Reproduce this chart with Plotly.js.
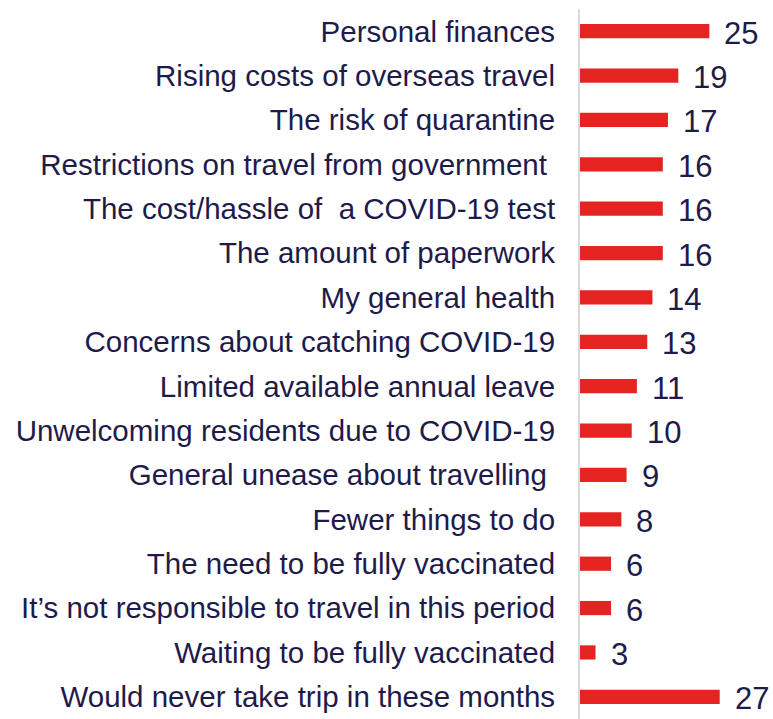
<!DOCTYPE html>
<html>
<head>
<meta charset="utf-8">
<script src="https://cdn.plot.ly/plotly-3.0.1.min.js"></script>
<style>html,body{margin:0;padding:0;background:#fff;}#chart{width:773px;height:719px;}</style>
</head>
<body>
<div id="chart"></div>
<script>
const categories = [
  "Personal finances",
  "Rising costs of overseas travel",
  "The risk of quarantine",
  "Restrictions on travel from government\u00a0",
  "The cost/hassle of \u00a0a COVID-19 test",
  "The amount of paperwork",
  "My general health",
  "Concerns about catching COVID-19",
  "Limited available annual leave",
  "Unwelcoming residents due to COVID-19",
  "General unease about travelling\u00a0",
  "Fewer things to do",
  "The need to be fully vaccinated",
  "It\u2019s not responsible to travel in this period",
  "Waiting to be fully vaccinated",
  "Would never take trip in these months"
];
const values = [25, 19, 17, 16, 16, 16, 14, 13, 11, 10, 9, 8, 6, 6, 3, 27];

const textColor = "#1e1b4b";
const fontFam = "Liberation Sans, Arial, sans-serif";

const trace = {
  type: "bar",
  orientation: "h",
  x: values,
  y: categories,
  marker: {color: "#e52421"},
  width: 0.32,
  hoverinfo: "none"
};

const annotations = values.map((v, i) => ({
  x: v, y: categories[i], xref: "x", yref: "y",
  text: String(v), showarrow: false, xanchor: "left", yanchor: "middle",
  xshift: 13, yshift: -2,
  font: {family: fontFam, size: 31, color: textColor}
}));

const layout = {
  width: 773, height: 719,
  margin: {l: 580, r: 0, t: 9, b: 0, pad: 0},
  paper_bgcolor: "#ffffff", plot_bgcolor: "#ffffff",
  showlegend: false,
  xaxis: {range: [0, 37.3], visible: false, fixedrange: true},
  yaxis: {
    type: "category", autorange: "reversed",
    showgrid: false, zeroline: false,
    showline: true, linecolor: "#d9d9d9", linewidth: 2,
    ticks: "", ticklabelstandoff: 17,
    tickfont: {family: fontFam, size: 29.5, color: textColor}
  },
  annotations: annotations
};

Plotly.newPlot("chart", [trace], layout, {displayModeBar: false, staticPlot: true});
</script>
</body>
</html>
